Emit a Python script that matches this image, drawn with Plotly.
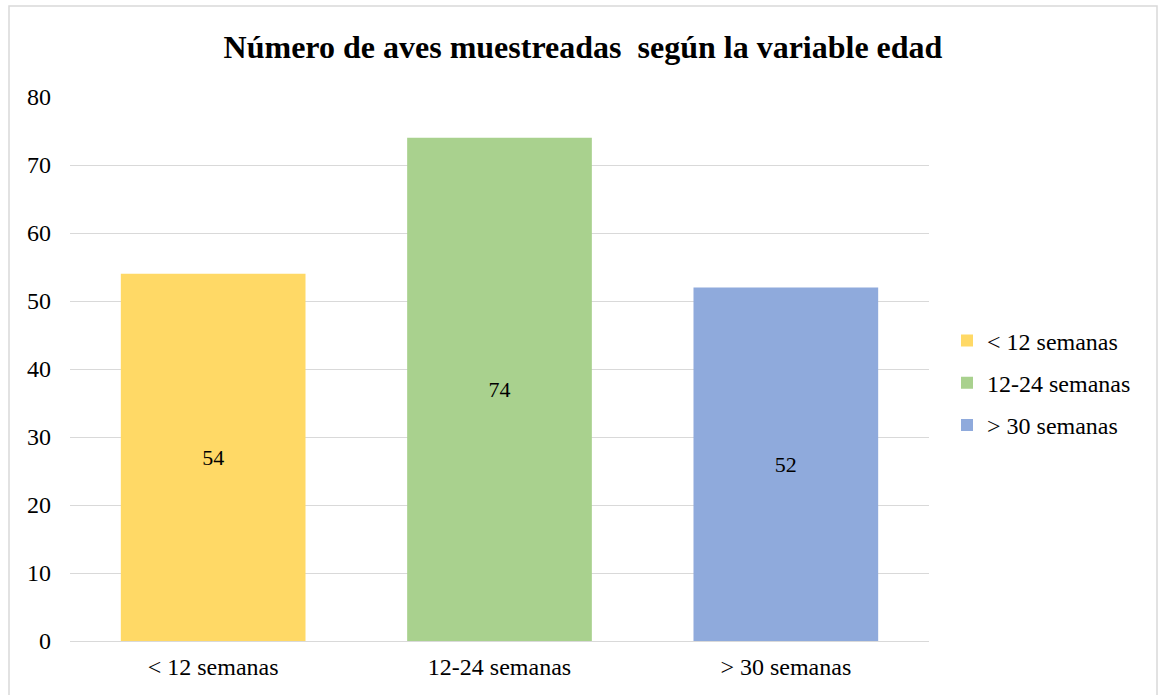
import plotly.graph_objects as go

categories = ['< 12 semanas', '12-24 semanas', '> 30 semanas']
counts = [54, 74, 52]
colors = ['#FFD966', '#A9D18E', '#8FAADC']

FONT = 'Liberation Serif, Times New Roman, serif'

fig = go.Figure()
for i, (cat, val, col) in enumerate(zip(categories, counts, colors)):
    fig.add_trace(go.Bar(
        x=[cat], y=[val], name=cat, legendgroup=f'g{i}',
        marker=dict(color=col, line=dict(width=0)),
        width=0.645, text=[str(val)], textposition='inside', insidetextanchor='middle',
        textfont=dict(family=FONT, size=22, color='#000000'),
    ))

W, H = 1159, 695
ml, mr, mt, mb = 70, 230, 97, 54
pw, ph = W - ml - mr, H - mt - mb

def px(x):
    return (x - ml) / pw

def py(y):
    return (H - mb - y) / ph

fig.update_layout(
    width=W, height=H, barmode='overlay',
    margin=dict(l=ml, r=mr, t=mt, b=mb, pad=0),
    plot_bgcolor='white', paper_bgcolor='white',
    font=dict(family=FONT, size=24, color='#000000'),
    title=dict(text='<b>Número de aves muestreadas \u00a0según la variable edad</b>',
               x=583 / W, xref='container', xanchor='center', y=1 - 47 / H, yanchor='middle',
               font=dict(family=FONT, size=32, color='#000000')),
    showlegend=True,
    legend=dict(x=px(947), xanchor='left', y=py(383), yanchor='middle',
                font=dict(family=FONT, size=24), tracegroupgap=8, itemsizing='constant',
                bgcolor='rgba(0,0,0,0)'),
    xaxis=dict(showgrid=False, showline=False, ticks='', tickfont=dict(size=24),
               ticklabelstandoff=9),
    yaxis=dict(range=[0, 80], dtick=10, showgrid=True, gridcolor='#D9D9D9', gridwidth=1,
               zeroline=True, zerolinecolor='#D9D9D9', zerolinewidth=1, showline=False,
               ticks='', tickfont=dict(size=24), ticklabelstandoff=18),
    shapes=[dict(type='rect', xref='paper', yref='paper',
                 x0=px(9), x1=px(1157), y0=py(710), y1=py(6),
                 line=dict(color='#D9D9D9', width=1.5), fillcolor='rgba(0,0,0,0)', layer='below')],
)

fig.write_html('out.html', config={'displayModeBar': False},
               post_script="document.body.style.margin='0px';")
